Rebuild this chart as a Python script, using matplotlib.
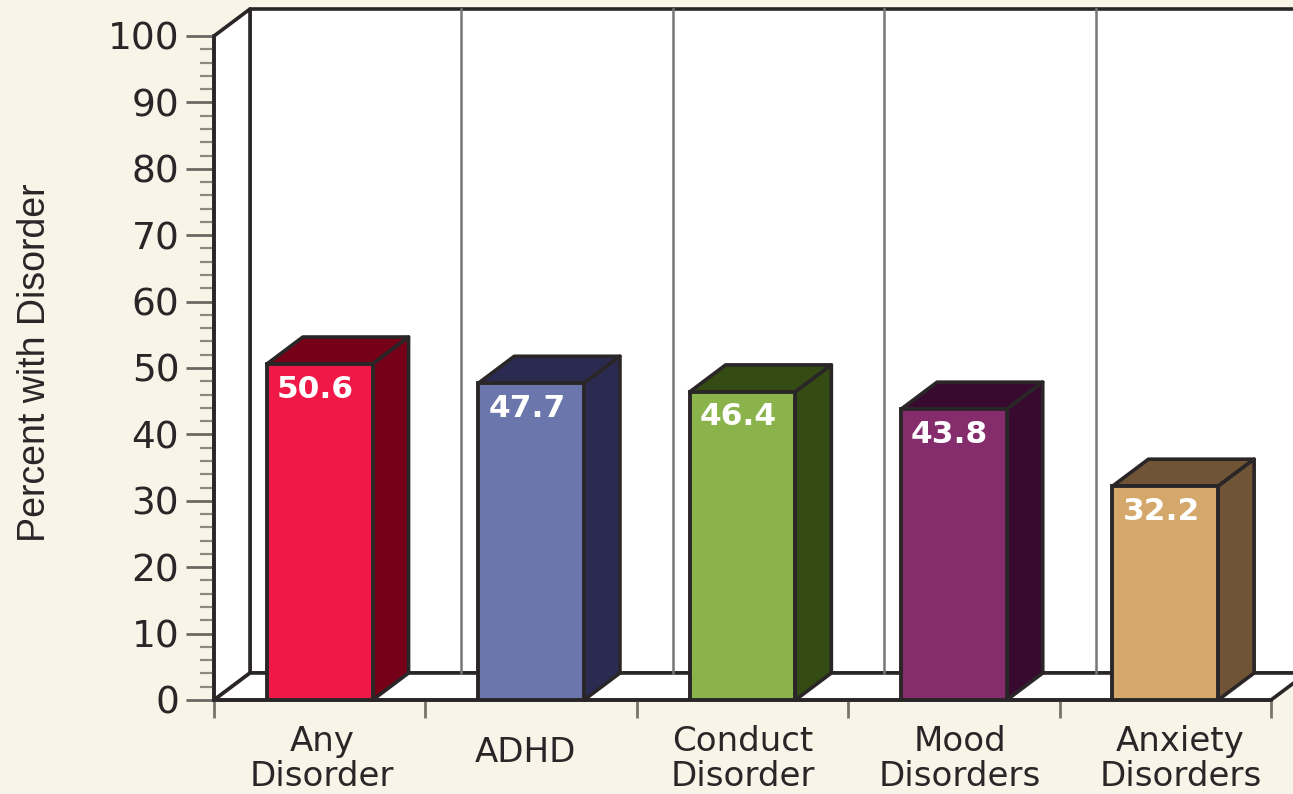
import matplotlib
matplotlib.use("Agg")
import matplotlib.pyplot as plt
from matplotlib.patches import Polygon
from matplotlib.ticker import MultipleLocator

# Chart data
categories = ["Any\nDisorder", "ADHD", "Conduct\nDisorder", "Mood\nDisorders", "Anxiety\nDisorders"]
values = [50.6, 47.7, 46.4, 43.8, 32.2]
front_colors = ["#EF1847", "#6B76AC", "#8BB34C", "#842C6C", "#D4A76A"]
side_colors = ["#760018", "#2B2B52", "#344C14", "#380A30", "#6F5435"]
y_ticks = [0, 10, 20, 30, 40, 50, 60, 70, 80, 90, 100]

# Layout in pixels of the 1293x794 canvas
W, H = 1293, 794
LEFT, RIGHT, BASE, TOP = 214, 1271, 700, 36
DEPTH_X, DEPTH_Y = 36, 27
BAR_WIDTH = 0.5
INK = "#2A2628"
BACKGROUND = "#F8F4E8"
SANS = "DejaVu Sans"
label_nudge_px = [2, -6, 0, 6, 15]

fig = plt.figure(figsize=(W / 100, H / 100), dpi=100, facecolor=BACKGROUND)
ax = fig.add_axes([LEFT / W, 1 - BASE / H, (RIGHT - LEFT) / W, (BASE - TOP) / H])
ax.set_facecolor("none")
ax.set_xlim(0, len(values))
ax.set_ylim(0, 100)

# Depth offset expressed in data units
dx = DEPTH_X / ((RIGHT - LEFT) / len(values))
dy = DEPTH_Y / ((BASE - TOP) / 100)
x_max = len(values)
x_over = x_max + 0.2


def face(points, color, edge=INK, lw=2.6, z=1):
    ax.add_patch(Polygon(points, closed=True, facecolor=color, edgecolor=edge,
                         linewidth=lw, clip_on=False, zorder=z, joinstyle="round"))


# Back wall, side wall and floor
face([(dx, dy), (x_over, dy), (x_over, 100 + dy), (dx, 100 + dy)], "white", z=0.5)
face([(0, 0), (dx, dy), (dx, 100 + dy), (0, 100)], "white", z=0.7)
face([(0, 0), (x_max, 0), (x_max + dx, dy), (x_over, dy), (dx, dy)], "white", z=0.8)

# Vertical dividers on the back wall
for i in range(1, len(values)):
    ax.plot([i + dx, i + dx], [dy, 100 + dy], color="#77777A", lw=1.8, clip_on=False, zorder=0.9)

# Bars: front faces from the library, then the extruded top and side
x_pos = [i + 0.5 for i in range(len(values))]
ax.bar(x_pos, values, width=BAR_WIDTH, color=front_colors, edgecolor=INK, linewidth=2.8, zorder=3)
for x, v, side in zip(x_pos, values, side_colors):
    x0, x1 = x - BAR_WIDTH / 2, x + BAR_WIDTH / 2
    face([(x0, v), (x1, v), (x1 + dx, v + dy), (x0 + dx, v + dy)], side, z=2.5)
    face([(x1, 0), (x1 + dx, dy), (x1 + dx, v + dy), (x1, v)], side, z=2.5)
    ax.annotate(f"{v:.1f}", (x, v), xytext=(-3, -18), textcoords="offset points",
                ha="center", va="center", color="white", fontsize=22.5,
                fontweight="bold", family=SANS, zorder=4)

# Value axis
ax.yaxis.set_major_locator(MultipleLocator(10))
ax.yaxis.set_minor_locator(MultipleLocator(2))
ax.set_yticks(y_ticks)
ax.tick_params(axis="y", which="major", length=20, width=2, color="#6B6862", pad=5,
               labelsize=27, labelcolor=INK)
ax.tick_params(axis="y", which="minor", length=10, width=1.6, color="#8C897F")
for lab in ax.get_yticklabels():
    lab.set_family(SANS)

# Category axis: ticks at the boundaries, labels centred under each bar
ax.set_xticks(range(len(values) + 1))
ax.set_xticklabels([])
ax.tick_params(axis="x", which="major", length=13, width=2, color="#77746C")
for x, name, nudge in zip(x_pos, categories, label_nudge_px):
    ax.annotate(name, (x, 0), xytext=(nudge, -59 if "\n" in name else -52),
                textcoords="offset pixels", ha="center", va="center",
                fontsize=24.5, color=INK, family=SANS, linespacing=1.08,
                annotation_clip=False)

for side in ("top", "right"):
    ax.spines[side].set_visible(False)
for side in ("left", "bottom"):
    ax.spines[side].set_linewidth(2.6)
    ax.spines[side].set_color(INK)
    ax.spines[side].set_zorder(2)

fig.text(35 / W, 1 - 363 / H, "Percent with Disorder", rotation=90, ha="center", va="center",
         fontsize=27, color=INK, family="Liberation Sans")

fig.savefig("out.png", dpi=100, facecolor=BACKGROUND)
